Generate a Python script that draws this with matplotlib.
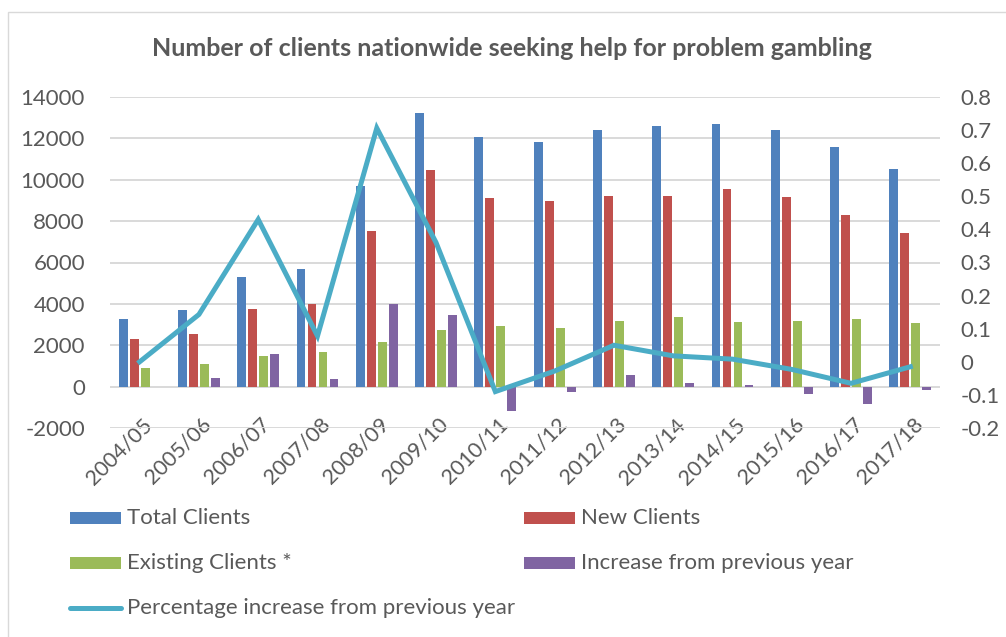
import matplotlib
matplotlib.use("Agg")
import matplotlib.pyplot as plt
from matplotlib.patches import Rectangle
from matplotlib.lines import Line2D
from matplotlib.transforms import ScaledTranslation
import numpy as np

plt.rcParams['font.family'] = ['Lato', 'DejaVu Sans']
plt.rcParams['axes.unicode_minus'] = False

years = ["2004/05", "2005/06", "2006/07", "2007/08", "2008/09", "2009/10", "2010/11",
         "2011/12", "2012/13", "2013/14", "2014/15", "2015/16", "2016/17", "2017/18"]
total_clients = [3250, 3700, 5280, 5680, 9690, 13220, 12060, 11820, 12410, 12590, 12700, 12400, 11580, 10540]
new_clients = [2290, 2545, 3750, 4010, 7520, 10460, 9110, 8980, 9220, 9210, 9550, 9190, 8310, 7420]
existing_clients = [920, 1110, 1500, 1660, 2160, 2720, 2950, 2820, 3150, 3370, 3140, 3190, 3270, 3090]
increase_prev = [0, 435, 1580, 390, 4010, 3480, -1170, -250, 565, 160, 100, -340, -820, -175]
pct_increase = [0.0, 0.143, 0.43, 0.078, 0.706, 0.36, -0.09, -0.028, 0.05, 0.018, 0.008, -0.023, -0.065, -0.015]

series_names = ["Total Clients", "New Clients", "Existing Clients *", "Increase from previous year"]
line_name = "Percentage increase from previous year"
title = "Number of clients nationwide seeking help for problem gambling"

colors = ["#4F81BD", "#C0504D", "#9BBB59", "#8064A2"]
line_color = "#4BACC6"
text_color = "#595959"
grid_color = "#D9D9D9"

W, H = 1006, 637
fig = plt.figure(figsize=(W / 100, H / 100), dpi=100)
fig.patch.set_facecolor("white")

# chart frame
fig.add_artist(Rectangle((7.5 / W, -0.05), 1.2, 1 - 11.5 / H + 0.05, transform=fig.transFigure,
                         fill=False, edgecolor="#D9D9D9", linewidth=1.0))

x0, x1 = 110, 940
y_top, y_bot = 97, 428
ax = fig.add_axes([x0 / W, 1 - y_bot / H, (x1 - x0) / W, (y_bot - y_top) / H])
ax2 = ax.twinx()

x = np.arange(len(years))
slot = 0.185
bw = 0.15
all_series = [total_clients, new_clients, existing_clients, increase_prev]
for i, (vals, c) in enumerate(zip(all_series, colors)):
    ax.bar(x + (i - 1.5) * slot, vals, width=bw, color=c, zorder=3)

ax2.plot(x, pct_increase, color=line_color, linewidth=3.6, solid_joinstyle="miter", zorder=4)

ax.set_xlim(-0.5, len(years) - 0.5)
ax.set_ylim(-2000, 14000)
ax.set_yticks(np.arange(-2000, 14001, 2000))
ax2.set_ylim(-0.2, 0.8)
rt = np.round(np.arange(-0.2, 0.81, 0.1), 1)
ax2.set_yticks(rt)
ax2.set_yticklabels(["%g" % v for v in rt])

ax.grid(axis="y", color=grid_color, linewidth=1.4, zorder=0)
ax.set_axisbelow(True)
for a in (ax, ax2):
    for s in a.spines.values():
        s.set_visible(False)
ax.spines['bottom'].set_position(('data', 0))

ax.set_xticks(x)
ax.set_xticklabels(years, rotation=45, ha="right", rotation_mode="anchor")
ax.tick_params(axis="x", length=0, pad=7, labelsize=15.5, labelcolor=text_color)
ax.tick_params(axis="y", length=0, pad=18, labelsize=16, labelcolor=text_color)
ax2.tick_params(axis="y", length=0, pad=15, labelsize=16, labelcolor=text_color)
off = ScaledTranslation(2 / 100, -18 / 100, fig.dpi_scale_trans)
for lab in ax.get_xticklabels():
    lab.set_transform(lab.get_transform() + off)

fig.text(512 / W, 1 - 48 / H, title, ha="center", va="center", fontsize=18,
         fontweight="bold", color=text_color)

rows = [(colors[0], series_names[0], 70, 518), (colors[1], series_names[1], 524, 518),
        (colors[2], series_names[2], 70, 563), (colors[3], series_names[3], 524, 563),
        (None, line_name, 70, 608)]
for c, lab, lx, ly in rows:
    if c is not None:
        fig.add_artist(Rectangle((lx / W, 1 - (ly + 6) / H), 51 / W, 12 / H,
                                 transform=fig.transFigure, facecolor=c, edgecolor="none"))
    else:
        fig.add_artist(Line2D([lx / W, (lx + 51) / W], [1 - ly / H, 1 - ly / H],
                              transform=fig.transFigure, color=line_color, linewidth=3.6,
                              solid_capstyle="round"))
    fig.text((lx + 57) / W, 1 - ly / H, lab, ha="left", va="center", fontsize=16, color=text_color)

fig.savefig("out.png", dpi=100, facecolor="white")
